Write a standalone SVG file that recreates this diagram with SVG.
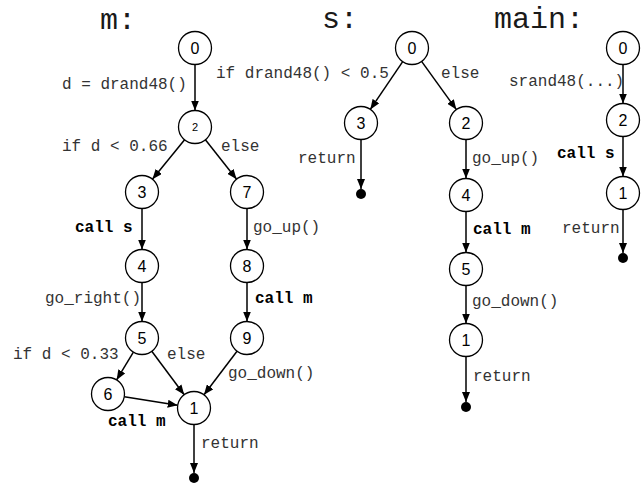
<svg xmlns="http://www.w3.org/2000/svg" width="642" height="484" viewBox="0 0 642 484">
  <style>
    .node circle { fill: #fff; stroke: #000; stroke-width: 1.3; }
    .num { font-family: "Liberation Sans", Arial, sans-serif; font-size: 16px; text-anchor: middle; fill: #000; }
    .small { font-size: 11px; }
    .lbl { font-family: "Liberation Mono", "Courier New", monospace; font-size: 16px; fill: #333; }
    .bold { font-weight: bold; fill: #000; }
    .title { font-family: "Liberation Mono", "Courier New", monospace; font-size: 30px; fill: #1a1a1a; }
    .edges line { stroke: #000; stroke-width: 1.5; marker-end: url(#arrow); }
    .end { fill: #000; }
  </style>
  <defs>
    <marker id="arrow" markerUnits="userSpaceOnUse" markerWidth="10" markerHeight="8" refX="10" refY="4" orient="auto">
      <path d="M0,0 L10,4 L0,8 z" fill="#000"/>
    </marker>
  </defs>
  <rect width="642" height="484" fill="#fff"/>

  <!-- titles -->
  <text class="title" x="100" y="29">m:</text>
  <text class="title" x="322" y="28">s:</text>
  <text class="title" x="494" y="28">main:</text>

  <!-- connectors -->
  <g id="edges" class="edges">
    <!-- m -->
    <line x1="195" y1="64.5" x2="195" y2="110.5"/>
    <line x1="184.6" y1="139.8" x2="152.4" y2="179.2"/>
    <line x1="205.4" y1="139.8" x2="236.6" y2="179.2"/>
    <line x1="142" y1="208.5" x2="142" y2="249.5"/>
    <line x1="142" y1="282.5" x2="142" y2="321.5"/>
    <line x1="247" y1="208.5" x2="247" y2="249.5"/>
    <line x1="247" y1="282.5" x2="247" y2="321.5"/>
    <line x1="133.4" y1="352.1" x2="116.6" y2="379.9"/>
    <line x1="151.8" y1="351.2" x2="184.2" y2="394.8"/>
    <line x1="237.0" y1="351.2" x2="204.0" y2="394.8"/>
    <line x1="124.3" y1="396.7" x2="177.7" y2="405.3"/>
    <line x1="194" y1="424.5" x2="194" y2="473"/>
    <!-- s -->
    <line x1="402.7" y1="61.6" x2="370.3" y2="109.4"/>
    <line x1="421.6" y1="61.4" x2="456.4" y2="109.6"/>
    <line x1="361" y1="139.5" x2="361" y2="189"/>
    <line x1="466" y1="139.5" x2="466" y2="178.5"/>
    <line x1="466" y1="211.5" x2="466" y2="252.5"/>
    <line x1="466" y1="285.5" x2="466" y2="323.5"/>
    <line x1="466" y1="356.5" x2="466" y2="402"/>
    <!-- main -->
    <line x1="623" y1="64.5" x2="623" y2="103.5"/>
    <line x1="623" y1="136.5" x2="623" y2="176.5"/>
    <line x1="623" y1="209.5" x2="623" y2="253"/>
  </g>

  <!-- end points -->
  <circle class="end" cx="194" cy="478" r="5"/>
  <circle class="end" cx="361" cy="194" r="5"/>
  <circle class="end" cx="466" cy="407" r="5"/>
  <circle class="end" cx="623" cy="258" r="5"/>

  <!-- m nodes -->
  <g id="m0" class="node"><circle cx="195" cy="48" r="16.5"/><text class="num" x="195" y="54">0</text></g>
  <g id="m2" class="node"><circle cx="195" cy="127" r="16.5"/><text class="num small" x="195" y="131">2</text></g>
  <g id="m3" class="node"><circle cx="142" cy="192" r="16.5"/><text class="num" x="142" y="198">3</text></g>
  <g id="m7" class="node"><circle cx="247" cy="192" r="16.5"/><text class="num" x="247" y="198">7</text></g>
  <g id="m4" class="node"><circle cx="142" cy="266" r="16.5"/><text class="num" x="142" y="272">4</text></g>
  <g id="m8" class="node"><circle cx="247" cy="266" r="16.5"/><text class="num" x="247" y="272">8</text></g>
  <g id="m5" class="node"><circle cx="142" cy="338" r="16.5"/><text class="num" x="142" y="344">5</text></g>
  <g id="m9" class="node"><circle cx="247" cy="338" r="16.5"/><text class="num" x="247" y="344">9</text></g>
  <g id="m6" class="node"><circle cx="108" cy="394" r="16.5"/><text class="num" x="108" y="400">6</text></g>
  <g id="m1" class="node"><circle cx="194" cy="408" r="16.5"/><text class="num" x="194" y="414">1</text></g>

  <!-- s nodes -->
  <g id="s0" class="node"><circle cx="412" cy="48" r="16.5"/><text class="num" x="412" y="54">0</text></g>
  <g id="s3" class="node"><circle cx="361" cy="123" r="16.5"/><text class="num" x="361" y="129">3</text></g>
  <g id="s2" class="node"><circle cx="466" cy="123" r="16.5"/><text class="num" x="466" y="129">2</text></g>
  <g id="s4" class="node"><circle cx="466" cy="195" r="16.5"/><text class="num" x="466" y="201">4</text></g>
  <g id="s5" class="node"><circle cx="466" cy="269" r="16.5"/><text class="num" x="466" y="275">5</text></g>
  <g id="s1" class="node"><circle cx="466" cy="340" r="16.5"/><text class="num" x="466" y="346">1</text></g>

  <!-- main nodes -->
  <g id="main0" class="node"><circle cx="623" cy="48" r="16.5"/><text class="num" x="623" y="54">0</text></g>
  <g id="main2" class="node"><circle cx="623" cy="120" r="16.5"/><text class="num" x="623" y="126">2</text></g>
  <g id="main1" class="node"><circle cx="623" cy="193" r="16.5"/><text class="num" x="623" y="199">1</text></g>

  <!-- edge labels -->
  <g id="labels">
    <text class="lbl" x="62" y="89">d = drand48()</text>
    <text class="lbl" x="62" y="151">if d &lt; 0.66</text>
    <text class="lbl" x="221" y="151">else</text>
    <text class="lbl bold" x="75" y="232">call s</text>
    <text class="lbl" x="253" y="232">go_up()</text>
    <text class="lbl" x="45" y="303">go_right()</text>
    <text class="lbl bold" x="255" y="303">call m</text>
    <text class="lbl" x="13" y="359">if d &lt; 0.33</text>
    <text class="lbl" x="167" y="359">else</text>
    <text class="lbl" x="228" y="378">go_down()</text>
    <text class="lbl bold" x="108" y="426">call m</text>
    <text class="lbl" x="201" y="448">return</text>

    <text class="lbl" x="216" y="78">if drand48() &lt; 0.5</text>
    <text class="lbl" x="441" y="78">else</text>
    <text class="lbl" x="298" y="163">return</text>
    <text class="lbl" x="472" y="163">go_up()</text>
    <text class="lbl bold" x="473" y="234">call m</text>
    <text class="lbl" x="472" y="306">go_down()</text>
    <text class="lbl" x="473" y="381">return</text>

    <text class="lbl" x="509" y="86">srand48(...)</text>
    <text class="lbl bold" x="557" y="158">call s</text>
    <text class="lbl" x="562" y="233">return</text>
  </g>
</svg>
